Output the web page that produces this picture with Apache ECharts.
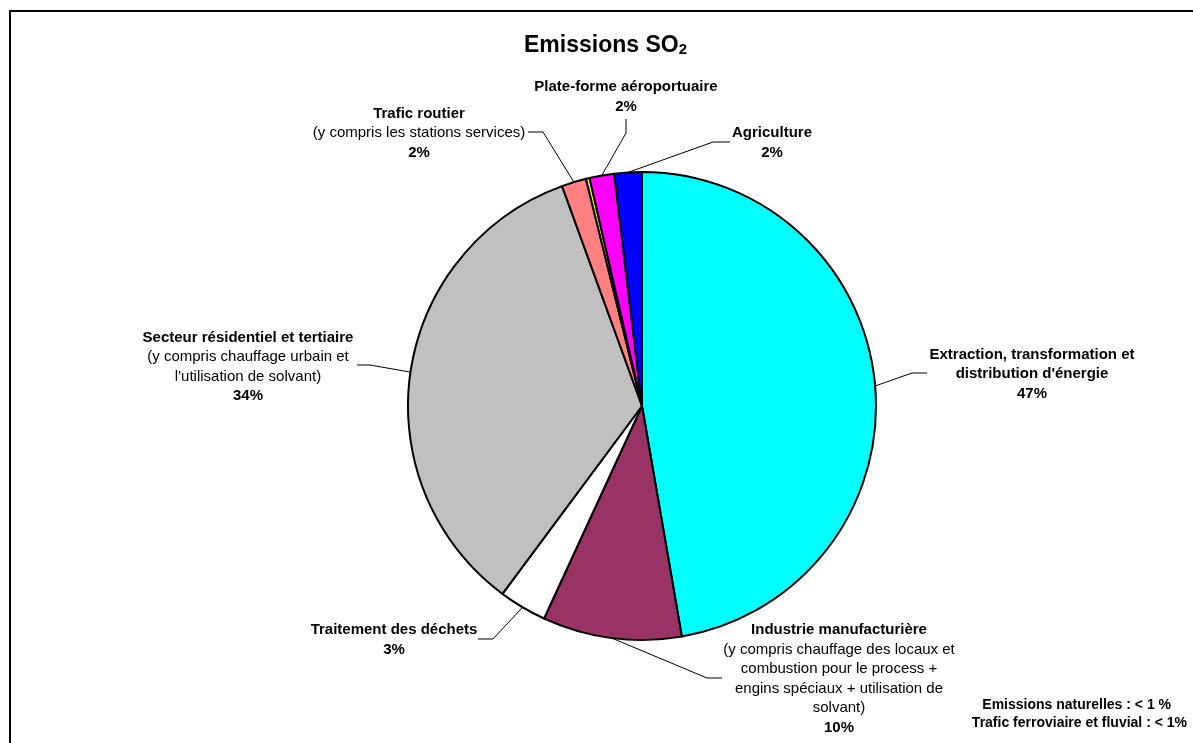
<!DOCTYPE html>
<html>
<head>
<meta charset="utf-8">
<script src="https://cdn.jsdelivr.net/npm/echarts@6/dist/echarts.min.js"></script>
<style>
  html, body { margin: 0; padding: 0; background: #fff; }
  #chart { width: 1193px; height: 743px; }
</style>
</head>
<body>
<div id="chart"></div>
<script>
// slices, clockwise from 12 o'clock
const names = [
  "Extraction, transformation et\ndistribution d'énergie",
  "Industrie manufacturière",
  "Traitement des déchets",
  "Secteur résidentiel et tertiaire",
  "Trafic routier",
  "Trafic ferroviaire et fluvial",
  "Plate-forme aéroportuaire",
  "Agriculture",
];
const notes = [
  "",
  "(y compris chauffage des locaux et\ncombustion pour le process +\nengins spéciaux + utilisation de\nsolvant)",
  "",
  "(y compris chauffage urbain et\nl'utilisation de solvant)",
  "(y compris les stations services)",
  "",
  "",
  "",
];
const values = [47.3, 9.6, 3.3, 34.3, 1.7, 0.25, 1.7, 1.9];
const colors = ["#00FFFF", "#993366", "#FFFFFF", "#C0C0C0", "#FF8080", "#FFFF00", "#FF00FF", "#0000FF"];

// label centre + leader line bend/end, per slice (null = no label)
const labelPos = [
  { x: 1032, y: 374, bend: [912, 373], end: [927, 373] },
  { x: 839, y: 679, bend: [707, 678], end: [722, 678] },
  { x: 394, y: 640, bend: [493, 639], end: [478, 639] },
  { x: 248, y: 367, bend: [370, 365], end: [357, 365] },
  { x: 419, y: 133, bend: [543, 132], end: [528, 132] },
  null,
  { x: 626, y: 97, bend: [626, 133], end: [626, 119] },
  { x: 772, y: 143, bend: [713, 142], end: [730, 142] },
];

const FONT = "'Liberation Sans', Arial, sans-serif";

const chart = echarts.init(document.getElementById("chart"));

chart.setOption({
  animation: false,
  backgroundColor: "#fff",
  title: [
    {
      text: "{a|Emissions SO}{s|2}",
      left: 524,
      top: 33,
      padding: 0,
      textStyle: {
        rich: {
          a: { fontFamily: FONT, fontSize: 23, fontWeight: "bold", color: "#000", lineHeight: 24, verticalAlign: "bottom" },
          s: { fontFamily: FONT, fontSize: 15, fontWeight: "bold", color: "#000", lineHeight: 19, verticalAlign: "bottom" },
        },
      },
    },
    {
      text: "Emissions naturelles : < 1 %",
      right: 22,
      top: 697,
      padding: 0,
      textStyle: { fontFamily: FONT, fontSize: 14, fontWeight: "bold", color: "#000", lineHeight: 16 },
    },
    {
      text: "Trafic ferroviaire et fluvial : < 1%",
      right: 6,
      top: 715,
      padding: 0,
      textStyle: { fontFamily: FONT, fontSize: 14, fontWeight: "bold", color: "#000", lineHeight: 16 },
    },
  ],
  graphic: [
    {
      type: "rect",
      z: -1,
      shape: { x: 10, y: 11, width: 1400, height: 1000 },
      style: { fill: "none", stroke: "#000", lineWidth: 2 },
    },
  ],
  series: [
    {
      type: "pie",
      center: [642, 406],
      radius: 234,
      startAngle: 90,
      clockwise: true,
      avoidLabelOverlap: false,
      itemStyle: { borderColor: "#000", borderWidth: 2 },
      emphasis: { disabled: true },
      label: {
        show: true,
        position: "outside",
        formatter: (params) => {
          const i = params.dataIndex;
          let txt = "{b|" + names[i] + "}";
          if (notes[i]) txt += "\n{n|" + notes[i] + "}";
          txt += "\n{b|" + Math.round(params.percent) + "%}";
          return txt;
        },
        rich: {
          b: { fontFamily: FONT, fontSize: 15, fontWeight: "bold", color: "#000", lineHeight: 19.5, align: "center" },
          n: { fontFamily: FONT, fontSize: 15, color: "#000", lineHeight: 19.5, align: "center" },
        },
      },
      labelLine: {
        show: true,
        length: 10,
        length2: 10,
        lineStyle: { color: "#000", width: 1 },
      },
      labelLayout: (params) => {
        const p = labelPos[params.dataIndex];
        if (!p) return {};
        const start = params.labelLinePoints ? params.labelLinePoints[0] : p.bend;
        return {
          x: p.x,
          y: p.y,
          align: "center",
          verticalAlign: "middle",
          labelLinePoints: [start, p.bend, p.end],
        };
      },
      data: values.map((v, i) => ({
        name: names[i],
        value: v,
        itemStyle: { color: colors[i] },
        label: labelPos[i] ? {} : { show: false },
        labelLine: labelPos[i] ? {} : { show: false },
      })),
    },
  ],
});
</script>
</body>
</html>
